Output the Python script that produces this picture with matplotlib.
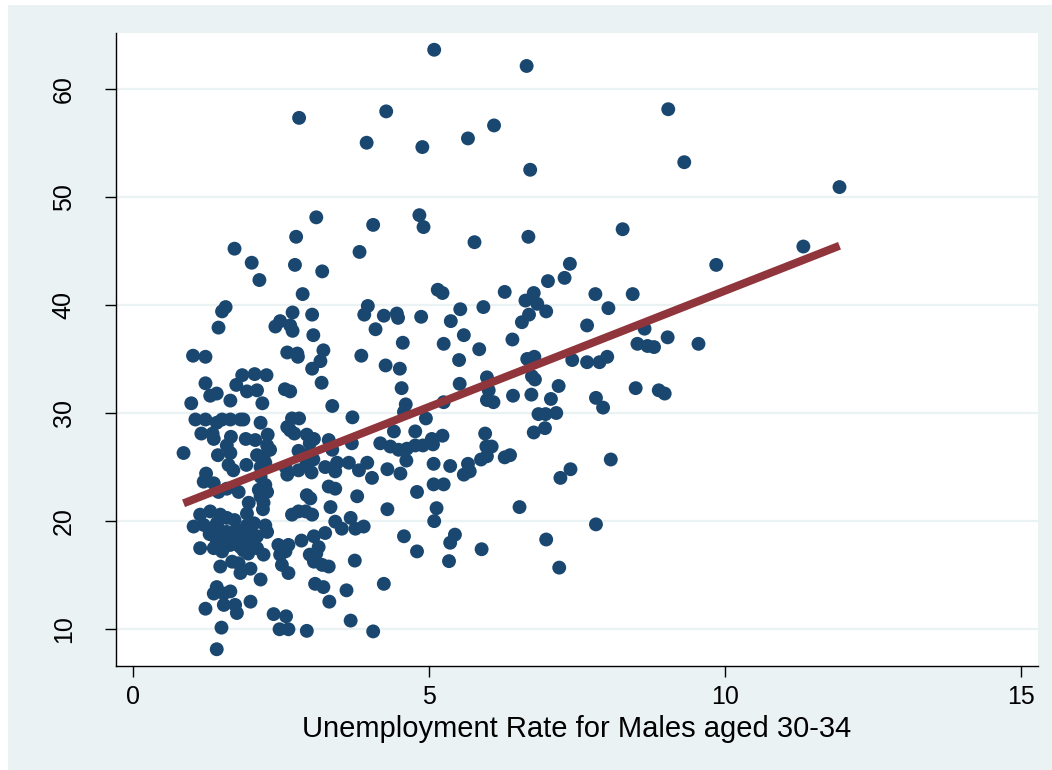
import numpy as np
import matplotlib
matplotlib.use("Agg")
import matplotlib.pyplot as plt
from matplotlib.patches import Rectangle

# Unemployment rate (males 30-34) and the outcome variable, one entry per observation
unemp_rate = [
    5.09, 6.65, 2.81, 4.28, 3.95, 4.89, 5.66, 6.10, 6.71, 9.04, 9.31, 11.93, 11.32, 9.85, 9.03, 9.55, 8.88, 8.98,
    4.84, 4.91, 5.77, 6.68, 8.27, 7.38, 7.29, 7.01, 5.15, 5.23, 6.28, 7.81, 8.44, 6.77, 6.63, 6.83, 6.98, 6.69,
    6.57, 5.92, 5.53, 8.03, 4.87, 5.37, 7.67, 8.64, 5.59, 5.25, 6.41, 5.85, 8.52, 8.69, 8.80, 5.51, 6.66, 6.78,
    7.42, 7.67, 7.88, 8.01, 6.74, 6.79, 5.52, 5.98, 6.01, 5.98, 6.09, 7.19, 6.42, 6.73, 7.06, 8.49, 7.82, 7.94,
    5.25, 4.95, 6.85, 6.97, 7.15, 6.77, 6.96, 5.95, 4.77, 5.23, 5.05,
    8.07, 7.39, 7.22, 6.53, 7.82, 6.98, 7.20, 5.89, 5.44, 5.36, 5.34, 4.80, 5.09, 5.13, 4.80, 5.08, 5.25, 5.08,
    5.36, 5.66, 5.59, 5.69, 5.88, 5.98, 5.97, 6.06, 6.28, 6.37, 4.62, 4.77, 4.90, 5.07,
    3.10, 4.06, 1.72, 2.76, 3.83, 2.01, 2.74, 3.20, 2.14, 2.87, 1.51, 1.57, 1.45, 2.70, 3.03, 2.41, 2.49, 2.66,
    2.70, 3.05, 3.97, 3.91, 4.24, 4.46, 4.48, 4.10, 4.56, 1.02, 1.23, 2.61, 2.78, 2.79, 3.22, 3.17, 3.03, 3.86,
    4.27, 4.51, 4.54, 4.61, 4.58, 3.19, 3.37, 3.71, 2.57, 2.66, 0.99, 1.23, 1.31, 1.42, 1.65, 1.85, 2.06, 2.26,
    1.75, 1.93, 2.10, 2.19,
    1.06, 1.23, 1.42, 1.51, 1.65, 1.82, 1.87, 2.16, 2.61, 2.69, 2.81, 2.66,
    1.16, 1.35, 1.37, 1.66, 1.91, 2.07, 2.28,
    2.73, 2.94, 3.06, 2.99, 3.31, 3.37, 4.41, 3.70,
    0.86, 1.24, 1.44, 1.65, 1.59, 1.92, 1.62, 1.70, 2.10, 2.21, 2.27, 2.32, 2.16, 2.24,
    2.80, 2.92, 3.05, 2.93, 2.58, 2.61, 2.80, 3.02,
    1.20, 1.37, 1.59, 1.79, 1.45,
    2.16, 2.24, 2.13, 2.27, 2.16, 2.21, 1.96, 1.93, 2.20,
    3.25, 3.45, 3.42, 3.65, 3.82, 3.96, 4.04,
    4.18, 4.35, 4.49, 4.63,
    4.30, 4.52,
    2.94, 3.00, 3.31, 3.42, 3.79, 3.34, 4.30,
    2.69, 2.80, 2.92, 3.03,
    3.42, 3.53, 3.68, 3.76, 3.90,
    4.58, 3.75, 4.24, 3.61, 3.32, 3.68, 4.06, 2.94, 2.48, 2.63, 2.59, 2.38,
    3.06, 3.14, 2.99, 3.06, 3.20, 3.31, 3.08, 3.22,
    2.46, 2.63, 2.49, 2.52, 2.63,
    1.99, 1.93, 2.24, 2.27, 2.10, 1.99, 2.21, 2.04, 2.10,
    1.03, 1.14, 1.31, 1.48, 1.59, 1.20, 1.42,
    1.59, 1.76, 1.79, 1.68, 1.51, 1.42, 1.37, 1.14, 1.51, 1.65, 1.82, 1.87,
    1.48, 1.68, 1.82, 1.99, 2.16, 1.79,
    1.42, 1.37, 1.54, 1.65, 1.54, 1.73, 1.76, 1.23, 1.99,
    1.50, 1.42,
    # densely overlapping observations inside the low-rate cluster
    1.30, 1.45, 1.62, 1.75, 1.88, 1.55, 1.95, 2.05, 1.72, 1.35,
    2.58, 2.85, 3.10, 3.25,
]

outcome = [
    63.6, 62.1, 57.3, 57.9, 55.0, 54.6, 55.4, 56.6, 52.5, 58.1, 53.2, 50.9, 45.4, 43.7, 37.0, 36.4, 32.1, 31.8,
    48.3, 47.2, 45.8, 46.3, 47.0, 43.8, 42.5, 42.2, 41.4, 41.1, 41.2, 41.0, 41.0, 41.1, 40.4, 40.1, 39.4, 39.1,
    38.4, 39.8, 39.6, 39.7, 38.9, 38.5, 38.1, 37.8, 37.2, 36.4, 36.8, 35.9, 36.4, 36.2, 36.1, 34.9, 35.0, 35.2,
    34.9, 34.7, 34.7, 35.2, 33.4, 33.1, 32.7, 33.3, 32.1, 31.2, 31.0, 32.5, 31.6, 31.7, 31.3, 32.3, 31.4, 30.5,
    31.0, 29.5, 29.9, 29.9, 30.0, 28.2, 28.6, 28.1, 28.3, 27.9, 27.6,
    25.7, 24.8, 24.0, 21.3, 19.7, 18.3, 15.7, 17.4, 18.75, 18.0, 16.3, 17.2, 20.0, 21.2, 22.7, 23.4, 23.4, 25.3,
    25.1, 25.3, 24.3, 24.6, 25.7, 26.0, 26.9, 26.9, 25.9, 26.1, 25.6, 27.0, 27.0, 27.1,
    48.1, 47.4, 45.2, 46.3, 44.9, 43.9, 43.7, 43.1, 42.3, 41.0, 39.4, 39.8, 37.9, 39.3, 39.1, 38.0, 38.5, 38.1,
    37.6, 37.2, 39.9, 39.1, 39.0, 39.2, 38.8, 37.75, 36.5, 35.3, 35.2, 35.6, 35.5, 35.2, 35.8, 34.8, 34.1, 35.3,
    34.4, 34.1, 32.3, 30.8, 30.1, 32.8, 30.65, 29.6, 32.2, 32.0, 30.9, 32.75, 31.6, 31.8, 31.15, 33.5, 33.6, 33.5,
    32.6, 32.0, 32.1, 30.9,
    29.4, 29.4, 29.1, 29.4, 29.4, 29.4, 29.4, 29.1, 28.7, 29.5, 29.5, 28.4,
    28.1, 28.1, 27.6, 27.8, 27.6, 27.5, 28.0,
    28.1, 28.0, 27.6, 27.2, 27.5, 26.6, 28.3, 27.2,
    26.3, 24.4, 26.1, 26.3, 27.0, 25.2, 25.2, 24.7, 26.1, 26.0, 27.0, 26.6, 25.0, 25.4,
    26.5, 26.1, 25.7, 25.2, 25.0, 24.3, 24.7, 24.5,
    23.65, 23.5, 23.0, 22.7, 22.7,
    24.1, 23.35, 22.9, 22.7, 22.3, 21.7, 21.7, 20.7, 21.1,
    25.0, 25.4, 24.6, 25.4, 24.7, 25.4, 24.0,
    27.2, 26.9, 26.6, 26.7,
    24.8, 24.4,
    22.4, 22.1, 23.2, 23.0, 22.3, 21.3, 21.1,
    20.6, 20.9, 20.9, 20.6,
    19.95, 19.3, 20.3, 19.3, 19.5,
    18.6, 16.35, 14.2, 13.6, 12.55, 10.8, 9.8, 9.85, 10.0, 10.0, 11.2, 11.4,
    18.6, 17.6, 16.9, 16.25, 15.95, 15.8, 14.2, 13.9,
    17.8, 17.8, 16.9, 15.95, 15.2,
    19.2, 19.6, 19.6, 19.0, 18.6, 18.0, 16.9, 18.3, 17.5,
    19.5, 20.6, 20.9, 20.6, 20.3, 19.65, 19.8,
    19.0, 19.2, 18.3, 18.1, 18.4, 18.1, 17.5, 17.5, 17.2, 17.8, 17.6, 17.3,
    15.8, 16.25, 15.2, 15.6, 14.6, 16.1,
    13.9, 13.3, 13.3, 13.5, 12.25, 12.25, 11.5, 11.9, 12.55,
    10.15, 8.15,
    18.8, 19.3, 18.7, 17.9, 18.8, 17.6, 17.0, 19.8, 20.1, 19.0,
    17.2, 18.2, 17.0, 18.9,
]

x_ticks = [0, 5, 10, 15]
y_ticks = [10, 20, 30, 40, 50, 60]
x_title = "Unemployment Rate for Males aged 30-34"

GRAPH_BG = "#EAF2F3"
MARKER_COLOR = "#1A476F"
FIT_COLOR = "#90353B"

plt.rcParams['font.family'] = ['Liberation Sans', 'DejaVu Sans']

W, H = 1052, 770
fig = plt.figure(figsize=(W / 100, H / 100), dpi=100, facecolor="white")
# light graph-region background behind the plot area
fig.patches.append(Rectangle((8 / W, 0), 1, (H - 5) / H, transform=fig.transFigure,
                             facecolor=GRAPH_BG, edgecolor="none", zorder=-10))

ax = fig.add_axes([116 / W, 1 - 666 / H, 922 / W, 633 / H])
ax.set_zorder(1)
ax.set_facecolor("white")

x = np.asarray(unemp_rate)
y = np.asarray(outcome)
ax.scatter(x, y, s=100, color=MARKER_COLOR, edgecolors="none", zorder=3)

# Linear fit across the observed range
slope, intercept = np.polyfit(x, y, 1)
xf = np.array([x.min(), x.max()])
ax.plot(xf, intercept + slope * xf, color=FIT_COLOR, lw=5.8,
        solid_capstyle="butt", zorder=4)

ax.set_xlim(-0.28, 15.28)
ax.set_ylim(6.6, 65.15)
ax.set_xticks(x_ticks)
ax.set_yticks(y_ticks)
ax.set_xticklabels([str(v) for v in x_ticks])
ax.set_yticklabels([str(v) for v in y_ticks], rotation=90, va="center")

ax.tick_params(axis="both", direction="out", length=8, width=1.0,
               colors="black", labelsize=18)
ax.tick_params(axis="y", pad=21)
ax.tick_params(axis="x", pad=6)

ax.grid(axis="y", color=GRAPH_BG, lw=1.6, zorder=0)
ax.grid(axis="x", visible=False)
ax.set_axisbelow(True)

for side in ("top", "right"):
    ax.spines[side].set_visible(False)
for side in ("left", "bottom"):
    ax.spines[side].set_linewidth(1.0)
    ax.spines[side].set_color("black")

ax.set_xlabel(x_title, fontsize=21, labelpad=4.3)

fig.savefig("out.png", dpi=100, facecolor=fig.get_facecolor())
